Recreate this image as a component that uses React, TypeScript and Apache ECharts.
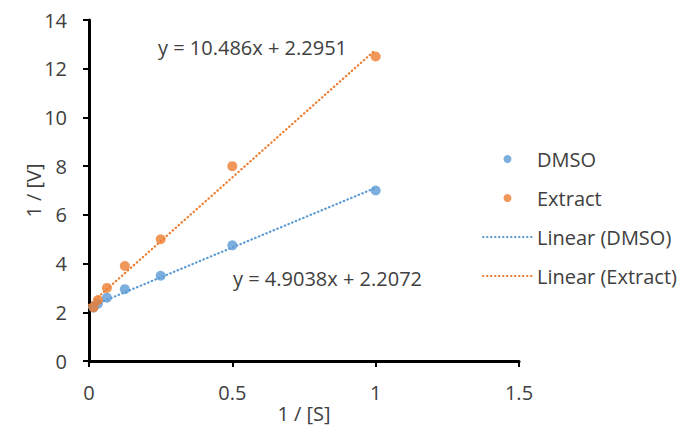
import React, { useEffect, useRef } from "react";
import * as echarts from "echarts";

const xValues = [1, 0.5, 0.25, 0.125, 0.0625, 0.03125, 0.015625];
const dmsoValues = [7.0, 4.75, 3.5, 2.95, 2.6, 2.35, 2.2];
const extractValues = [12.5, 8.0, 5.0, 3.9, 3.0, 2.5, 2.2];
const seriesNames = ["DMSO", "Extract", "Linear (DMSO)", "Linear (Extract)"];
const slopes = [4.9038, 10.486];
const intercepts = [2.2072, 2.2951];
const trendRange = [0, 1];
const equationLabels = ["y = 4.9038x + 2.2072", "y = 10.486x + 2.2951"];
const xTicks = [0, 0.5, 1, 1.5];
const yTicks = [0, 2, 4, 6, 8, 10, 12, 14];

const BLUE = "#5B9BD5";
const ORANGE = "#ED7D31";
const FONT = "'Open Sans', 'Noto Sans', sans-serif";
const TXT = "#404040";
const FS = 20;

export default function App() {
  const ref = useRef<HTMLDivElement>(null);
  useEffect(() => {
    if (!ref.current) return;
    const chart = echarts.init(ref.current, null, { renderer: "svg" });
    const trend = (i: number) => trendRange.map((x) => [x, slopes[i] * x + intercepts[i]]);
    chart.setOption({
      animation: false,
      textStyle: { fontFamily: FONT },
      grid: { left: 89, right: 160, top: 20, bottom: 67, containLabel: false, outerBoundsMode: "none" },
      xAxis: {
        type: "value",
        min: xTicks[0],
        max: xTicks[xTicks.length - 1],
        interval: 0.5,
        name: "1 / [S]",
        nameLocation: "middle",
        nameGap: 42,
        nameMoveOverlap: false,
        nameTextStyle: { color: TXT, fontSize: FS, lineHeight: 20, fontFamily: FONT },
        axisLine: { show: true, onZero: false, lineStyle: { color: "#000", width: 3 } },
        axisTick: { show: true, length: 6, lineStyle: { color: "#000", width: 2 } },
        axisLabel: { color: TXT, fontSize: FS, margin: 21, fontFamily: FONT },
        splitLine: { show: false },
      },
      yAxis: {
        type: "value",
        min: yTicks[0],
        max: yTicks[yTicks.length - 1],
        interval: 2,
        name: "1 / [V]",
        nameLocation: "middle",
        nameGap: 46,
        nameMoveOverlap: false,
        nameRotate: 90,
        nameTextStyle: { color: TXT, fontSize: FS, lineHeight: 20, fontFamily: FONT },
        axisLine: { show: true, onZero: false, lineStyle: { color: "#000", width: 3 } },
        axisTick: { show: true, length: 6, lineStyle: { color: "#000", width: 2 } },
        axisLabel: { color: TXT, fontSize: FS, margin: 22, fontFamily: FONT },
        splitLine: { show: false },
      },
      legend: {
        orient: "vertical",
        left: 477,
        top: 144,
        itemWidth: 49,
        itemHeight: 8,
        itemGap: 19,
        textStyle: { color: TXT, fontSize: FS, fontFamily: FONT },
        data: [
          { name: seriesNames[0] },
          { name: seriesNames[1] },
          { name: seriesNames[2], itemStyle: { opacity: 0 } },
          { name: seriesNames[3], itemStyle: { opacity: 0 } },
        ],
      },
      series: [
        {
          name: seriesNames[2],
          type: "line",
          data: trend(0),
          symbol: "none",
          lineStyle: { color: BLUE, width: 2.2, type: [0.5, 3.5], cap: "round" },
          itemStyle: { color: BLUE },
          z: 1,
        },
        {
          name: seriesNames[3],
          type: "line",
          data: trend(1),
          symbol: "none",
          lineStyle: { color: ORANGE, width: 2.2, type: [0.5, 3.5], cap: "round" },
          itemStyle: { color: ORANGE },
          z: 1,
        },
        {
          name: seriesNames[0],
          type: "scatter",
          data: xValues.map((x, i) => [x, dmsoValues[i]]),
          symbol: "circle",
          symbolSize: 10,
          itemStyle: { color: BLUE },
          z: 3,
        },
        {
          name: seriesNames[1],
          type: "scatter",
          data: xValues.map((x, i) => [x, extractValues[i]]),
          symbol: "circle",
          symbolSize: 10,
          itemStyle: { color: ORANGE },
          z: 4,
        },
      ],
      graphic: [
        {
          type: "text",
          x: 158,
          y: 37,
          style: { text: equationLabels[1], fill: TXT, font: `${FS}px ${FONT}` },
        },
        {
          type: "text",
          x: 233,
          y: 268,
          style: { text: equationLabels[0], fill: TXT, font: `${FS}px ${FONT}` },
        },
      ],
    });
    return () => chart.dispose();
  }, []);
  return <div ref={ref} style={{ width: 679, height: 428, position: "absolute", left: 0, top: 0 }} />;
}
